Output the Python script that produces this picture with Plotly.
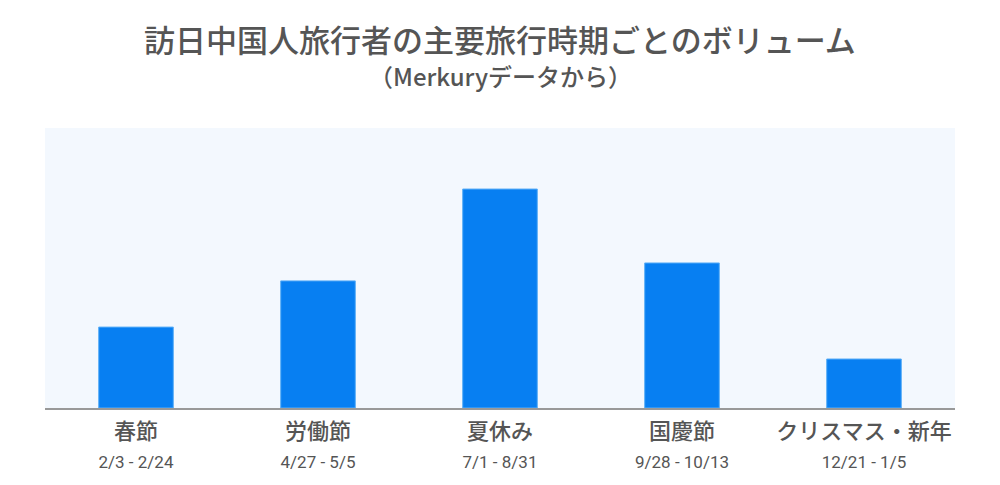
import plotly.graph_objects as go

periods = ['春節', '労働節', '夏休み', '国慶節', 'クリスマス・新年']
date_ranges = ['2/3 - 2/24', '4/27 - 5/5', '7/1 - 8/31', '9/28 - 10/13', '12/21 - 1/5']
volume = [28.9, 45.4, 78.2, 51.8, 17.5]

tick_text = [f"{p}<br><span style='font-size:17px;font-family:Roboto;font-weight:400'>{d}</span>"
             for p, d in zip(periods, date_ranges)]

fig = go.Figure()
fig.add_trace(go.Bar(x=periods, y=volume,
                     marker=dict(color='#077FF2',
                                 line=dict(color='#5AAEF7', width=1))))

# title + subtitle as annotations above the plot
fig.add_annotation(text="訪日中国人旅行者の主要旅行時期ごとのボリューム",
                   xref='paper', yref='paper', x=0.5, y=1.318,
                   xanchor='center', yanchor='middle', showarrow=False,
                   font=dict(size=31, color='#555555', weight=500))
fig.add_annotation(text="（Merkuryデータから）",
                   xref='paper', yref='paper', x=0.5, y=1.188,
                   xanchor='center', yanchor='middle', showarrow=False,
                   font=dict(size=24, color='#555555', weight=500))

fig.update_layout(
    font=dict(family='Noto Sans CJK JP', color='#555555'),
    width=1000, height=485,
    margin=dict(l=37, r=53, t=120, b=85),
    paper_bgcolor='white', plot_bgcolor='#F3F8FE',
    bargap=0.59, showlegend=False,
)
fig.update_xaxes(tickvals=periods, ticktext=tick_text,
                 tickfont=dict(size=22, color='#555555', weight=500),
                 ticklabelstandoff=3,
                 showline=True, linecolor='#999999', linewidth=2,
                 ticks='', showgrid=False)
fig.update_yaxes(range=[0, 100], visible=False, showgrid=False)

fig.write_html("out.html")
